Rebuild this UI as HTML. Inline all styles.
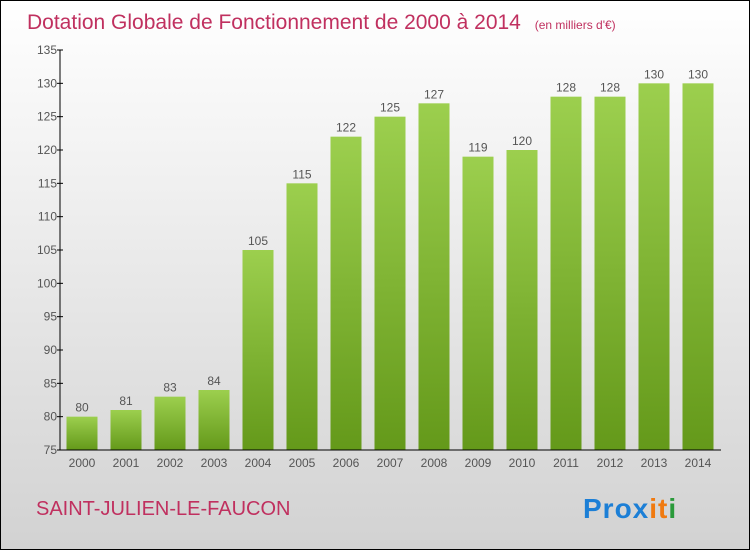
<!DOCTYPE html>
<html><head><meta charset="utf-8"><style>
body{margin:0;width:750px;height:550px;overflow:hidden;font-family:"Liberation Sans",sans-serif}
</style></head><body>
<svg id="chart" width="750" height="550" xmlns="http://www.w3.org/2000/svg">
<defs>
<linearGradient id="bg" x1="0" y1="0" x2="0" y2="1"><stop offset="0" stop-color="#ffffff"/><stop offset="1" stop-color="#d2d2d2"/></linearGradient>
<linearGradient id="bar" x1="0" y1="0" x2="0" y2="1"><stop offset="0" stop-color="#9ccf4e"/><stop offset="1" stop-color="#64991a"/></linearGradient>
</defs>
<rect x="0.5" y="0.5" width="749" height="549" fill="url(#bg)" stroke="#000"/>
<text x="27" y="29" font-size="21" fill="#c0305f">Dotation Globale de Fonctionnement de 2000 à 2014 <tspan font-size="12" dx="8">(en milliers d'€)</tspan></text>
<g id="plot"></g>
<text x="36" y="515" font-size="20" fill="#c0305f">SAINT-JULIEN-LE-FAUCON</text>
<text x="583" y="518" font-size="28" font-weight="bold" letter-spacing="1"><tspan fill="#1c7fd6">Prox</tspan><tspan fill="#f07a10">it</tspan><tspan fill="#2a9a3a">i</tspan></text>
</svg>
<script>
const years=["2000","2001","2002","2003","2004","2005","2006","2007","2008","2009","2010","2011","2012","2013","2014"];
const values=[80,81,83,84,105,115,122,125,127,119,120,128,128,130,130];
const yTicks=[75,80,85,90,95,100,105,110,115,120,125,130,135];
const NS="http://www.w3.org/2000/svg";
const g=document.getElementById('plot');
const y=v=>450-(v-75)*400/60;
const x=i=>82+i*44;
function mk(t,a,txt){const e=document.createElementNS(NS,t);for(const k in a)e.setAttribute(k,a[k]);if(txt!==undefined)e.textContent=txt;g.appendChild(e);return e;}
values.forEach((v,i)=>{
 const r=mk('rect',{x:x(i)-15.5,y:y(v),width:31,height:450-y(v),fill:'url(#bar)'});
 
 
 const l=mk('text',{x:x(i),y:y(v)-5,'text-anchor':'middle','font-size':12,fill:'#555'},v);
 
 
 const xl=mk('text',{x:x(i),y:467,'text-anchor':'middle','font-size':12,fill:'#555'},years[i]);
 
 
});
yTicks.forEach(t=>{
 const tk=mk('line',{x1:57,x2:63,y1:y(t),y2:y(t),stroke:'#000'});
 
 
 const tl=mk('text',{x:57,y:y(t)+4,'text-anchor':'end','font-size':12,fill:'#555'},t);
 
 
});
const ya=mk('line',{x1:60,x2:60,y1:50,y2:450,stroke:'#000'});


const xa=mk('line',{x1:60,x2:721,y1:450,y2:450,stroke:'#000'});


</script>
</body></html>
